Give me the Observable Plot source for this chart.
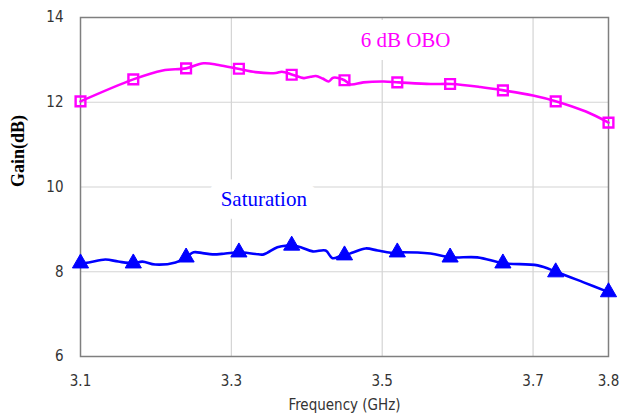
<!DOCTYPE html>
<html>
<head>
<meta charset="utf-8">
<script src="https://cdn.jsdelivr.net/npm/d3@7"></script>
<script src="https://cdn.jsdelivr.net/npm/@observablehq/plot@0.6"></script>
<style>
  html, body { margin: 0; padding: 0; background: #fff; }
  #chart { width: 620px; height: 415px; overflow: hidden; }
</style>
</head>
<body>
<div id="chart"></div>
<script>
// ---- data ----
const oboFreq = [3.100, 3.170, 3.209, 3.240, 3.263, 3.283, 3.309, 3.332, 3.359, 3.367, 3.381, 3.396, 3.405, 3.412, 3.421, 3.429, 3.435, 3.450, 3.458, 3.475, 3.502, 3.522, 3.564, 3.592, 3.630, 3.661, 3.700, 3.731, 3.770, 3.800];
const oboGain = [12.02, 12.54, 12.75, 12.80, 12.92, 12.88, 12.79, 12.71, 12.69, 12.72, 12.65, 12.57, 12.60, 12.62, 12.56, 12.49, 12.58, 12.52, 12.42, 12.47, 12.49, 12.47, 12.43, 12.43, 12.36, 12.28, 12.16, 12.02, 11.78, 11.52];

const satFreq = [3.100, 3.111, 3.133, 3.150, 3.170, 3.182, 3.199, 3.226, 3.240, 3.250, 3.262, 3.275, 3.292, 3.310, 3.332, 3.343, 3.361, 3.375, 3.381, 3.392, 3.408, 3.425, 3.434, 3.445, 3.451, 3.462, 3.478, 3.494, 3.511, 3.522, 3.564, 3.591, 3.626, 3.661, 3.706, 3.732, 3.767, 3.800];
const satGain = [8.20, 8.22, 8.29, 8.24, 8.20, 8.24, 8.17, 8.22, 8.34, 8.46, 8.44, 8.41, 8.43, 8.46, 8.42, 8.41, 8.58, 8.62, 8.62, 8.58, 8.48, 8.50, 8.32, 8.37, 8.39, 8.46, 8.55, 8.50, 8.45, 8.46, 8.43, 8.34, 8.34, 8.20, 8.15, 7.99, 7.75, 7.52];

const markerFreq = [3.10, 3.17, 3.24, 3.31, 3.38, 3.45, 3.52, 3.59, 3.66, 3.73, 3.80];
const oboMarkers = [12.02, 12.54, 12.80, 12.79, 12.65, 12.52, 12.47, 12.43, 12.28, 12.02, 11.52];
const satMarkers = [8.20, 8.20, 8.34, 8.46, 8.62, 8.39, 8.46, 8.34, 8.20, 7.99, 7.52];

const xTicks = [3.1, 3.3, 3.5, 3.7, 3.8];
const xGrid = [3.3, 3.5, 3.7];
const yTicks = [6, 8, 10, 12, 14];
const yGrid = [8, 10, 12];

const seriesNames = ["6 dB OBO", "Saturation"];
const seriesColors = ["#ff00ff", "#0000ff"];
const labelFreq = [3.531, 3.343];
const labelGain = [13.46, 9.71];

const xTitle = "Frequency (GHz)";
const yTitle = "Gain(dB)";

// ---- tables built from the arrays ----
const oboLine = oboFreq.map((f, i) => ({f, g: oboGain[i]}));
const satLine = satFreq.map((f, i) => ({f, g: satGain[i]}));
const oboPts = markerFreq.map((f, i) => ({f, g: oboMarkers[i]}));
const satPts = markerFreq.map((f, i) => ({f, g: satMarkers[i]}));
const labels = seriesNames.map((name, i) => ({name, f: labelFreq[i], g: labelGain[i], c: seriesColors[i]}));

const narrow = "'Liberation Sans Narrow', 'Arial Narrow', 'DejaVu Sans Condensed', 'Liberation Sans', Arial, sans-serif";
const serif = "'Liberation Serif', 'Times New Roman', serif";

const chart = Plot.plot({
  width: 620,
  height: 415,
  marginLeft: 80,
  marginRight: 12,
  marginTop: 17,
  marginBottom: 59,
  x: {domain: [3.1, 3.8]},
  y: {domain: [6, 14]},
  style: {background: "#fff", fontFamily: narrow},
  marks: [
    Plot.gridX(xGrid, {stroke: "#d4d4d4", strokeOpacity: 1, strokeWidth: 1.2}),
    Plot.gridY(yGrid, {stroke: "#d4d4d4", strokeOpacity: 1, strokeWidth: 1.2}),
    Plot.text(labels, {
      x: "f", y: "g", text: "name", fill: "c",
      fontFamily: serif, fontSize: 21,
      stroke: "#fff", strokeWidth: 26, strokeLinejoin: "round", paintOrder: "stroke"
    }),
    Plot.frame({stroke: "#7f7f7f", strokeWidth: 1.5}),
    Plot.axisX(xTicks, {
      tickSize: 0, tickPadding: 19, label: null,
      fontSize: 15, fill: "#333", fontFamily: narrow,
      tickFormat: d3.format(".1f")
    }),
    Plot.axisY(yTicks, {
      tickSize: 0, tickPadding: 17, label: null,
      fontSize: 15, fill: "#333", fontFamily: narrow
    }),
    Plot.line(oboLine, {x: "f", y: "g", stroke: seriesColors[0], strokeWidth: 2.6, curve: "catmull-rom"}),
    Plot.line(satLine, {x: "f", y: "g", stroke: seriesColors[1], strokeWidth: 2.6, curve: "catmull-rom"}),
    Plot.dot(oboPts, {x: "f", y: "g", symbol: "square", r: 5.5, stroke: seriesColors[0], strokeWidth: 2.4, fill: "none"}),
    Plot.dot(satPts, {x: "f", y: "g", symbol: "triangle", r: 6, fill: seriesColors[1], stroke: seriesColors[1], strokeWidth: 1}),
    Plot.text([yTitle], {
      frameAnchor: "left", dx: -62, rotate: -90,
      fontFamily: serif, fontWeight: "bold", fontSize: 18, fill: "#000"
    }),
    Plot.text([xTitle], {
      frameAnchor: "bottom", dy: 53,
      fontFamily: narrow, fontSize: 15, fill: "#333"
    })
  ]
});
document.getElementById("chart").appendChild(chart);
</script>
</body>
</html>
